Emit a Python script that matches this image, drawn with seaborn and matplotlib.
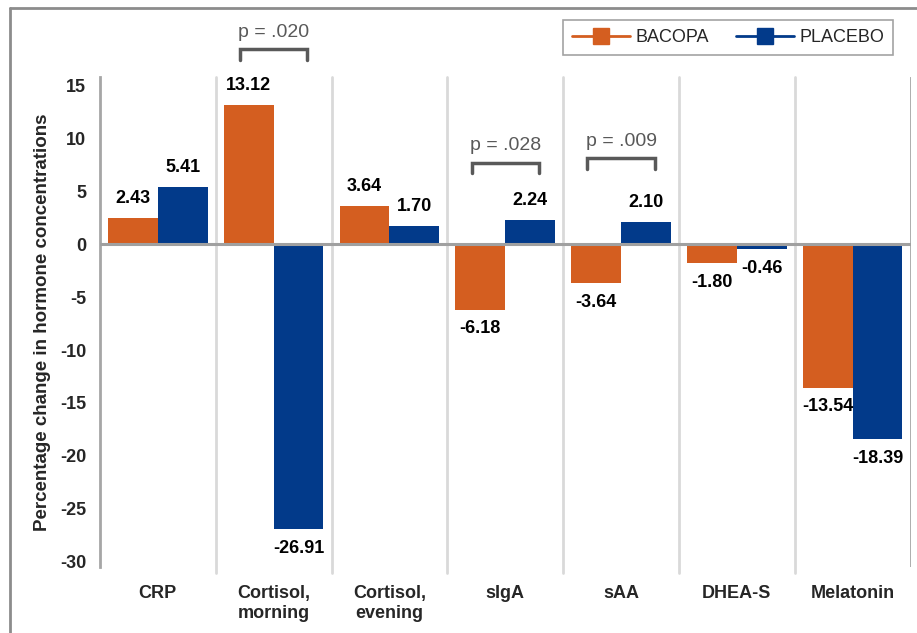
import pandas as pd
import matplotlib.pyplot as plt
import seaborn as sns
from matplotlib.lines import Line2D

# Data
categories = ['CRP', 'Cortisol,\nmorning', 'Cortisol,\nevening', 'sIgA', 'sAA', 'DHEA-S', 'Melatonin']
bacopa = [2.43, 13.12, 3.64, -6.18, -3.64, -1.80, -13.54]
placebo = [5.41, -26.91, 1.70, 2.24, 2.10, -0.46, -18.39]
groups = ['BACOPA', 'PLACEBO']
colors = ['#D45E20', '#023A8A']

# significance brackets: category index, p label
sig_cats = [1, 3, 4]
sig_labels = ['p = .020', 'p = .028', 'p = .009']
sig_heights = [17.4, 6.7, 7.1]

data = pd.DataFrame({
    'Category': categories * 2,
    'Group': ['BACOPA'] * len(categories) + ['PLACEBO'] * len(categories),
    'Value': bacopa + placebo,
})

sns.set_theme(style='white')
plt.rcParams['font.family'] = ['Liberation Sans', 'DejaVu Sans']
plt.rcParams['axes.unicode_minus'] = False

fig = plt.figure(figsize=(9.17, 6.33), dpi=100)
ax = fig.add_axes([0.109, 0.104, 0.884, 0.774])

sns.barplot(data=data, x='Category', y='Value', hue='Group', palette=colors,
            width=0.86, gap=0, saturation=1, ax=ax, legend=False, linewidth=0)

ax.set_ylim(-30.5, 15.75)
ax.set_xlim(-0.5, len(categories) - 0.5)
ax.set_yticks(range(-30, 16, 5))
ax.set_ylabel('Percentage change in hormone concentrations', fontsize=13.5,
              fontweight='bold', labelpad=6)
ax.set_xlabel('')
ax.tick_params(axis='y', length=0, labelsize=13, pad=10)
ax.tick_params(axis='x', length=0, labelsize=13, pad=13)
for lbl in ax.get_yticklabels() + ax.get_xticklabels():
    lbl.set_fontweight('bold')

for side in ['top', 'right', 'bottom']:
    ax.spines[side].set_visible(False)
ax.spines['left'].set_color('#a6a6a6')
ax.spines['left'].set_linewidth(2)

# category separators and zero line
for i in range(1, len(categories)):
    ax.axvline(i - 0.5, ymin=-0.012, ymax=1, color='#d9d9d9', lw=2, zorder=0, clip_on=False)
ax.axvline(len(categories) - 0.5, color='#a6a6a6', lw=2, zorder=0)
ax.axhline(0, color='#a0a0a0', lw=2.2, zorder=3)

# value labels
for container, vals in zip(ax.containers, [bacopa, placebo]):
    for bar, v in zip(container, vals):
        x = bar.get_x() + bar.get_width() / 2
        off = 14 if v >= 0 else -14
        ax.annotate(f'{v:.2f}', xy=(x, v), xytext=(0, off), textcoords='offset points',
                    ha='center', va='center', fontsize=13, fontweight='bold', color='black')

# significance brackets
for ci, lab, h in zip(sig_cats, sig_labels, sig_heights):
    x0, x1 = ci - 0.29, ci + 0.29
    ax.plot([x0, x0, x1, x1], [h, h + 1.0, h + 1.0, h], color='#595959', lw=2.5,
            clip_on=False, solid_joinstyle='miter')
    ax.text(ci, h + 1.8, lab, ha='center', va='bottom', fontsize=14, color='#595959',
            clip_on=False)

# legend
handles = [Line2D([0], [0], color=c, lw=2, marker='s', markersize=11) for c in colors]
leg = fig.legend(handles, groups, loc='center', bbox_to_anchor=(0.794, 0.941), ncol=2,
                 frameon=True, fancybox=False, edgecolor='#8c8c8c', fontsize=13,
                 handlelength=3.2, columnspacing=1.5, borderpad=0.5, handletextpad=0.3)
leg.get_frame().set_linewidth(1.2)

# figure border
fig.add_artist(Line2D([0.011, 0.011], [0, 0.987], color='#8c8c8c', lw=2, transform=fig.transFigure))
fig.add_artist(Line2D([0.011, 1], [0.987, 0.987], color='#8c8c8c', lw=2, transform=fig.transFigure))

fig.savefig('out.png', dpi=100)
